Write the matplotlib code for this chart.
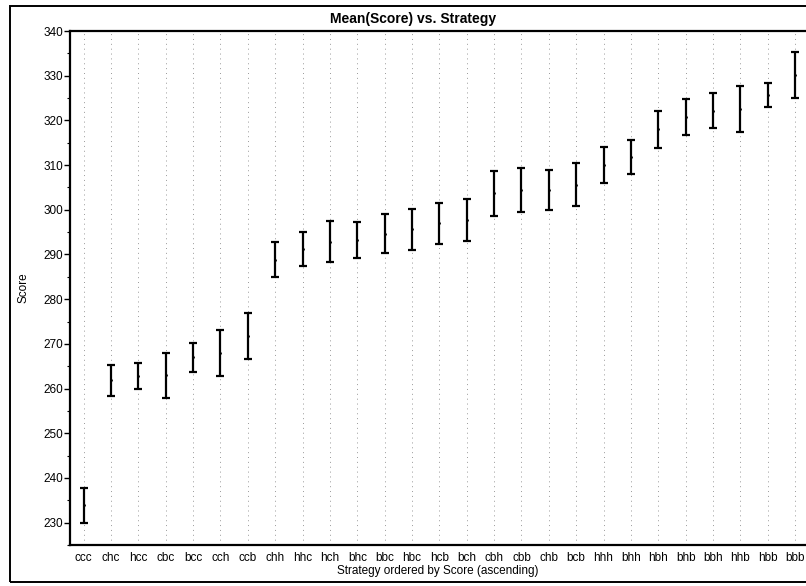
import numpy as np
import matplotlib
matplotlib.use('Agg')
import matplotlib.pyplot as plt
from matplotlib.patches import Rectangle

strategies = ['ccc', 'chc', 'hcc', 'cbc', 'bcc', 'cch', 'ccb', 'chh', 'hhc',
              'hch', 'bhc', 'bbc', 'hbc', 'hcb', 'bch', 'cbh', 'cbb', 'chb',
              'bcb', 'hhh', 'bhh', 'hbh', 'bhb', 'bbh', 'hhb', 'hbb', 'bbb']
score_low = [230.0, 258.4, 260.0, 258.0, 263.8, 262.9, 266.6, 284.9, 287.5,
             288.4, 289.2, 290.3, 291.0, 292.3, 293.1, 298.7, 299.5, 300.0,
             300.9, 306.1, 308.0, 313.9, 316.7, 318.3, 317.4, 322.9, 325.0]
score_high = [237.8, 265.3, 265.7, 268.0, 270.3, 273.2, 276.9, 292.7, 295.0,
              297.4, 297.2, 299.0, 300.2, 301.6, 302.4, 308.7, 309.4, 308.9,
              310.4, 314.1, 315.6, 322.2, 324.7, 326.1, 327.8, 328.3, 335.2]

plt.rcParams['font.family'] = ['Liberation Sans', 'DejaVu Sans']

lo = np.array(score_low)
hi = np.array(score_high)
mid = (lo + hi) / 2.0
x = np.arange(len(strategies))

fig = plt.figure(figsize=(8.06, 5.86), dpi=100)
ax = fig.add_axes([70 / 806, 41 / 586, 736 / 806, 514 / 586])

# dotted vertical guides at each strategy
for xi in x:
  ax.axvline(xi, color='0.6', linestyle=(0, (1, 4)), linewidth=0.7, zorder=1)

ax.errorbar(x, mid, yerr=[mid - lo, hi - mid], fmt='none', ecolor='black',
            elinewidth=1.6, capsize=3.2, capthick=1.6, zorder=3)
ax.plot(x, mid, linestyle='none', marker='.', markersize=2, color='black', zorder=4)

ax.set_xlim(-0.5, 26.4)
ax.set_ylim(225, 340)
ax.set_yticks(np.arange(230, 341, 10))
ax.set_yticks(np.arange(225, 341, 5), minor=True)
ax.set_xticks(x)
ax.set_xticklabels(strategies)
ax.tick_params(axis='x', length=0, pad=5, labelsize=8.5)
ax.tick_params(axis='y', which='major', length=4, width=1, labelsize=8.5, pad=1)
ax.tick_params(axis='y', which='minor', length=2, width=0.8)
ax.spines['right'].set_visible(False)
for s in ['left', 'bottom', 'top']:
  ax.spines[s].set_linewidth(1.6)

ax.set_xlabel('Strategy ordered by Score (ascending)', fontsize=8.5, labelpad=1)
ax.set_ylabel('Score', fontsize=8.5, labelpad=10)

fig.text(413 / 806, 1 - 19 / 586, 'Mean(Score) vs. Strategy', ha='center',
         va='center', fontsize=10, fontweight='bold')

# outer frame like the original panel
fig.patches.append(Rectangle((10 / 806, 4 / 586), 1.0, 1 - 10 / 586,
                             transform=fig.transFigure, fill=False,
                             edgecolor='black', linewidth=1.4))

fig.savefig('out.png', dpi=100)
